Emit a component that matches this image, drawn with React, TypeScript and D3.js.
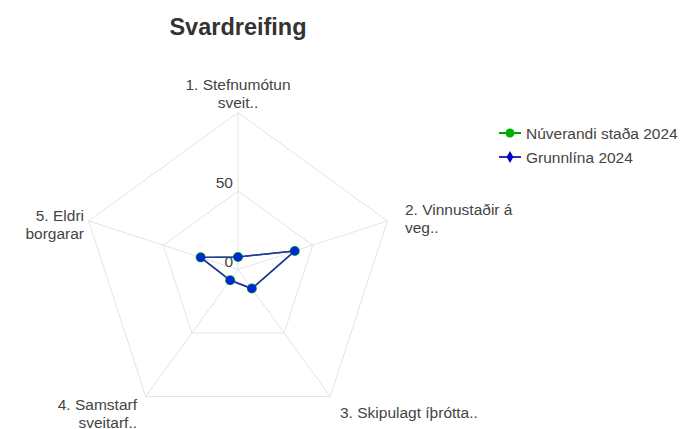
import React from "react";
import * as d3 from "d3";

const categories: string[][] = [
  ["1. Stefnumótun", "sveit.."],
  ["2. Vinnustaðir á", "veg.."],
  ["3. Skipulagt íþrótta.."],
  ["4. Samstarf", "sveitarf.."],
  ["5. Eldri", "borgarar"],
];
const currentValues = [8, 38, 15, 8.5, 25];
const baselineValues = [8, 38, 15, 8.5, 25];
const seriesNames = ["Núverandi staða 2024", "Grunnlína 2024"];
const radialTicks = [0, 50];
const gridLevels = [50, 100];

const W = 685, H = 429;
const cx = 238, cy = 269.5, R = 157;
const font = "'Liberation Sans', Arial, sans-serif";
const textColor = "#444";
const fs = 15.5;

export default function App() {
  const r = d3.scaleLinear().domain([0, 100]).range([0, R]);
  const n = categories.length;
  const ang = (i: number) => -Math.PI / 2 + (2 * Math.PI * i) / n;
  const pt = (i: number, v: number): [number, number] => [
    cx + r(v) * Math.cos(ang(i)),
    cy + r(v) * Math.sin(ang(i)),
  ];
  const line = d3.line<[number, number]>().curve(d3.curveLinearClosed);
  const ring = (lv: number) => line(d3.range(n).map((i) => pt(i, lv)))!;

  const labelPos = [
    { x: 238, y: 90, anchor: "middle" },
    { x: 405, y: 215, anchor: "start" },
    { x: 340, y: 418, anchor: "start" },
    { x: 137, y: 410, anchor: "end" },
    { x: 84, y: 221, anchor: "end" },
  ];

  const diamond = d3.symbol().type(d3.symbolDiamond).size(40)()!;

  return (
    <svg width={W} height={H} style={{ position: "absolute", left: 0, top: 0, background: "#fff" }} fontFamily={font}>
      <rect width={W} height={H} fill="#fff" />
      <text x={238} y={35} textAnchor="middle" fontSize={23.5} fontWeight="bold" fill="#333">Svardreifing</text>
      {gridLevels.map((lv) => (
        <path key={lv} d={ring(lv)} fill="none" stroke="#e4e4e4" strokeWidth={1} />
      ))}
      {d3.range(n).map((i) => {
        const [x, y] = pt(i, 100);
        return <line key={i} x1={cx} y1={cy} x2={x} y2={y} stroke="#e4e4e4" strokeWidth={1} />;
      })}
      {radialTicks.map((t) => {
        const [x, y] = pt(0, t);
        return (
          <text key={t} x={x - 5} y={y - 3} textAnchor="end" fontSize={fs} fill={textColor}>{t}</text>
        );
      })}
      {categories.map((lines, i) => (
        <text key={i} x={labelPos[i].x} y={labelPos[i].y} textAnchor={labelPos[i].anchor} fontSize={fs} fill={textColor}>
          {lines.map((l, j) => (
            <tspan key={j} x={labelPos[i].x} dy={j === 0 ? 0 : 17.5}>{l}</tspan>
          ))}
        </text>
      ))}
      <path d={line(currentValues.map((v, i) => pt(i, v)))!} fill="none" stroke="#00a000" strokeWidth={1.5} />
      {currentValues.map((v, i) => {
        const [x, y] = pt(i, v);
        return <circle key={i} cx={x} cy={y} r={5} fill="#00b000" />;
      })}
      <path d={line(baselineValues.map((v, i) => pt(i, v)))!} fill="none" stroke="#2c2cb8" strokeWidth={1.5} />
      {baselineValues.map((v, i) => {
        const [x, y] = pt(i, v);
        return <circle key={i} cx={x} cy={y} r={4.3} fill="#0026d9" />;
      })}
      <g>
        <line x1={499} x2={521} y1={133} y2={133} stroke="#00a000" strokeWidth={2} />
        <circle cx={510} cy={133} r={4.5} fill="#00b000" />
        <text x={526} y={138.5} fontSize={fs} fill={textColor}>{seriesNames[0]}</text>
        <line x1={499} x2={521} y1={157} y2={157} stroke="#2c2cb8" strokeWidth={2} />
        <path d={diamond} transform="translate(510,157)" fill="#0000cc" />
        <text x={526} y={162.5} fontSize={fs} fill={textColor}>{seriesNames[1]}</text>
      </g>
    </svg>
  );
}
